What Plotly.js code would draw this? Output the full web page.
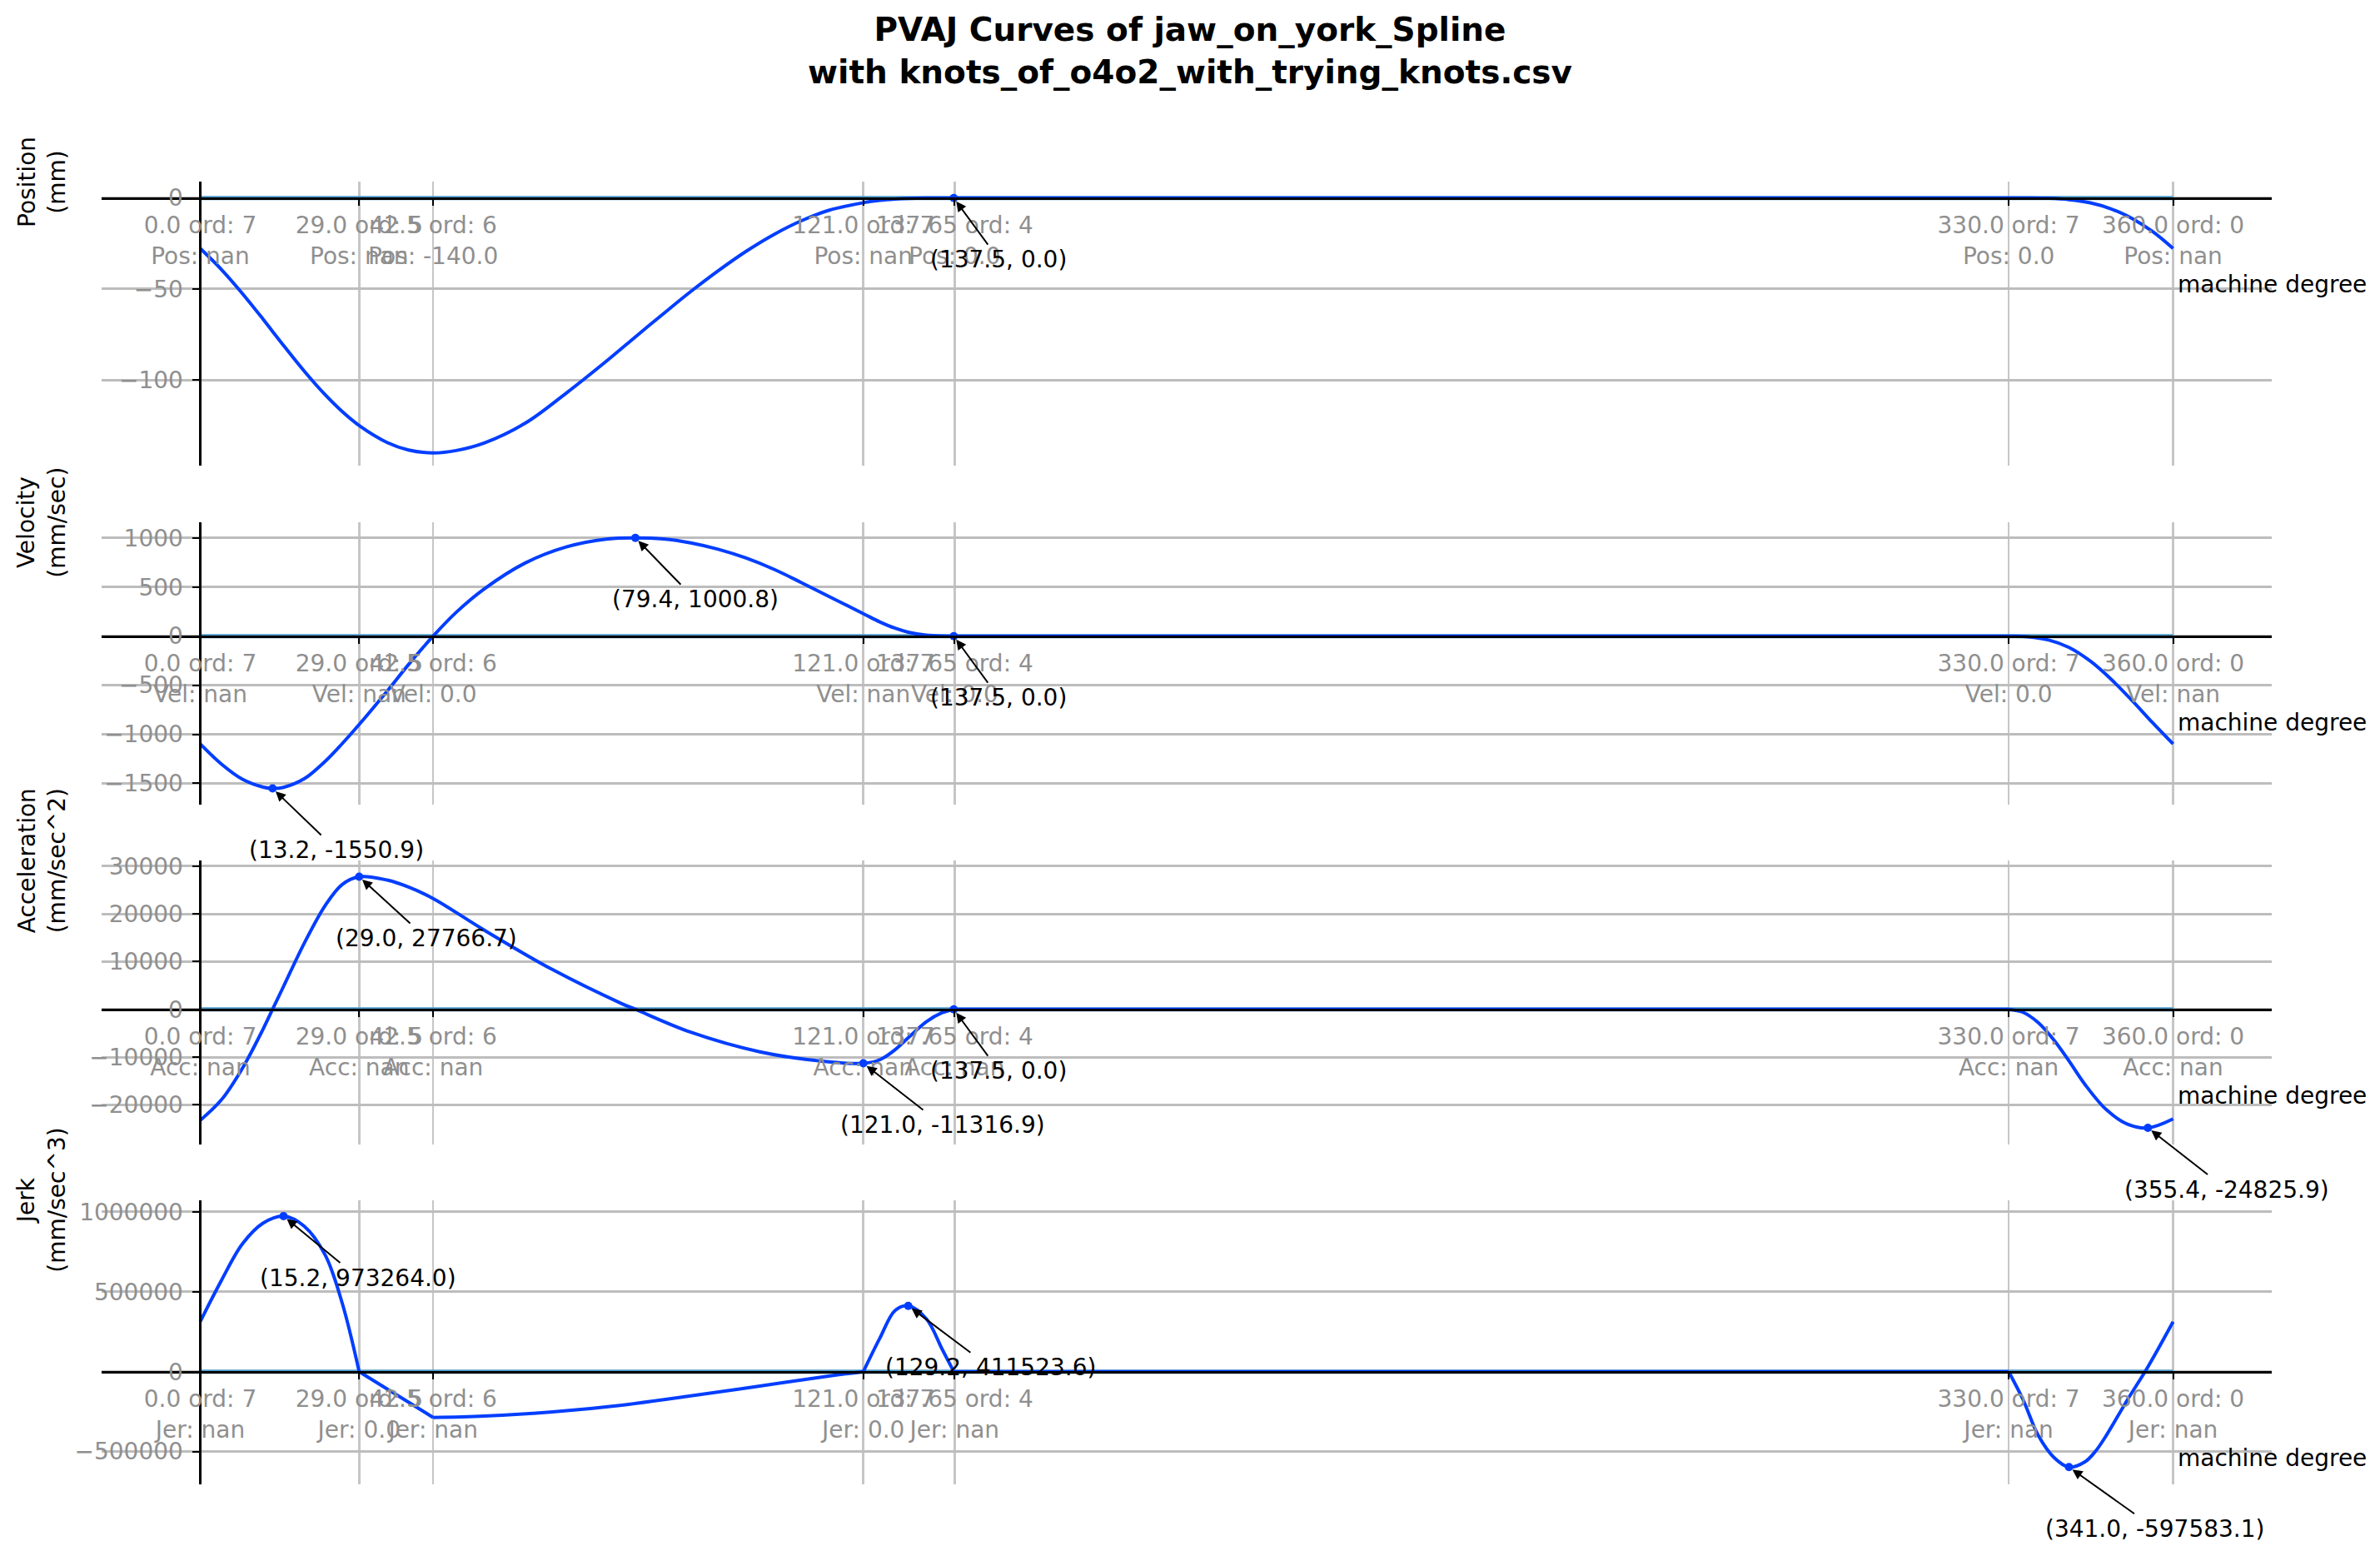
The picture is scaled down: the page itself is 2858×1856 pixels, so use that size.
<!DOCTYPE html>
<html><head><meta charset="utf-8">
<script src="https://cdn.plot.ly/plotly-3.0.1.min.js"></script>
<style>html,body{margin:0;padding:0;background:#fff}#chart{width:2858px;height:1856px}</style>
</head><body><div id="chart"></div>
<script>
// ---------------- data ----------------
const knots      = [0, 29, 42.5, 121, 137.65, 330, 360];
const knotText   = ["0.0", "29.0", "42.5", "121.0", "137.65", "330.0", "360.0"];
const knotOrd    = [7, 5, 6, 7, 4, 7, 0];
const posAtKnot  = ["nan", "nan", "-140.0", "nan", "0.0", "0.0", "nan"];
const velAtKnot  = ["nan", "nan", "0.0", "nan", "0.0", "0.0", "nan"];
const accAtKnot  = ["nan", "nan", "nan", "nan", "nan", "nan", "nan"];
const jerAtKnot  = ["nan", "0.0", "nan", "0.0", "nan", "nan", "nan"];

const posX = [0, 3.9, 7.7, 11.5, 13.2, 15.2, 19, 22.8, 25.9, 29, 34.1, 38, 42.5, 46.7, 51.8, 59.3, 66.9, 74.4, 79.4, 84.5, 89.5, 94.5, 99.6, 104.7, 109.7, 114.7, 121, 124, 126.8, 129.2, 132.5, 137.5, 180, 240, 300, 330, 333.5, 337.3, 341, 344.9, 348.7, 352.5, 356.3, 360];
const posY = [-27.7, -39.4, -52.5, -66.7, -73.3, -81.0, -95.2, -108.1, -117.3, -125.0, -134.3, -138.4, -140, -138.7, -134.6, -123.7, -106.9, -88.9, -76.3, -63.6, -51.4, -40, -29.3, -20.0, -12.5, -6.8, -2.6, -1.3, -0.6, -0.25, -0.05, 0, 0, 0, 0, 0, 0, -0.2, -0.9, -2.7, -6.0, -11.2, -18.5, -27.7];

const velX = [0, 3.9, 7.7, 11.5, 13.2, 15.2, 19, 22.8, 25.9, 29, 34.1, 38, 42.5, 46.7, 51.8, 59.3, 66.9, 74.4, 79.4, 84.5, 89.5, 94.5, 99.6, 104.7, 109.7, 114.7, 121, 124, 126.8, 129.2, 132.5, 135.4, 137.5, 180, 240, 300, 330, 333.5, 337.3, 341, 344.9, 348.7, 352.5, 356.3, 360];
const velY = [-1099, -1305, -1458, -1538, -1550.9, -1540, -1452, -1275, -1095, -900, -560, -290, 0, 242, 480, 745, 910, 990, 1000.8, 990, 950, 885, 795, 680, 545, 405, 229, 145, 80, 40, 10, 1, 0, 0, 0, 0, 0, -7, -40, -115, -255, -440, -655, -885, -1099];

const accX = [0, 3.9, 7.7, 11.5, 13.2, 15.2, 19, 22.8, 25.9, 29, 34.1, 38, 42.5, 51.8, 64.3, 76.9, 79.4, 89.5, 102.1, 114.7, 121, 124, 126.8, 129.2, 132.5, 135.4, 137.5, null, 137.5, 180, 240, 300, 330, null, 330, 332.6, 335.4, 338.3, 341, 343.9, 347.8, 351.6, 355.4, 360];
const accY = [-23250, -18903, -12340, -4072, 0, 4785, 13882, 21734, 26138, 27766.7, 27060, 25600, 23200, 16600, 8300, 1200, 0, -4800, -8900, -11000, -11316.9, -10560, -8450, -5950, -2600, -700, 0, null, 0, 0, 0, 0, 0, null, 0, -620, -2800, -6500, -10800, -15700, -21000, -24000, -24825.9, -22950];

const jerX = [0, 3.9, 7.7, 11.5, 15.2, 19.0, 22.8, 25.9, 29, null, 29, 42.5, null, 42.5, 51.8, 64.3, 76.9, 89.5, 102.1, 114.7, 121, null, 121, 124, 126.8, 129.2, 132.5, 135.4, 137.5, null, 137.5, 180, 240, 300, 330, null, 330, 332.6, 335.4, 338.3, 341, 343.9, 345.8, 347.8, 351.6, 355.4, 360];
const jerY = [312800, 573500, 799800, 930100, 973264, 910000, 730000, 430000, 0, null, 0, -287000, null, -287000, -278000, -252000, -210000, -152000, -90000, -28000, 0, null, 0, 208600, 382700, 411523.6, 330500, 139200, 0, null, 0, 0, 0, 0, 0, null, 0, -173600, -399400, -538600, -597583.1, -565000, -500000, -400000, -180000, 30000, 312800];

const posExtX = [137.5],                     posExtY = [0.0];
const velExtX = [79.4, 13.2, 137.5],         velExtY = [1000.8, -1550.9, 0.0];
const accExtX = [29.0, 121.0, 137.5, 355.4], accExtY = [27766.7, -11316.9, 0.0, -24825.9];
const jerExtX = [15.2, 129.2, 341.0],        jerExtY = [973264.0, 411523.6, -597583.1];

const yTitles  = ["Position<br>(mm)", "Velocity<br>(mm/sec)", "Acceleration<br>(mm/sec^2)", "Jerk<br>(mm/sec^3)"];
const knotPrefix = ["Pos", "Vel", "Acc", "Jer"];
const titleText = "PVAJ Curves of jaw_on_york_Spline<br>with knots_of_o4o2_with_trying_knots.csv";
const xLabel = "machine degree";

// ---------------- layout geometry ----------------
const W = 2858, H = 1856;
const FONT = "DejaVu Sans";
const BLUE = "#023eff";
const GRAY = "#8f8f8f";
const xRange = [-18, 378];
const xd = [122 / W, 2728 / W];
const panels = [
  {top: 218,    bot: 559,    range: [-147.0, 9.0],      dtick: 50,     x: posX, y: posY, ex: posExtX, ey: posExtY, kv: posAtKnot},
  {top: 626.7,  bot: 965.7,  range: [-1714, 1162],      dtick: 500,    x: velX, y: velY, ex: velExtX, ey: velExtY, kv: velAtKnot},
  {top: 1033.3, bot: 1374,   range: [-28310, 31117],    dtick: 10000,  x: accX, y: accY, ex: accExtX, ey: accExtY, kv: accAtKnot},
  {top: 1440.7, bot: 1781.7, range: [-703900, 1074000], dtick: 500000, x: jerX, y: jerY, ex: jerExtX, ey: jerExtY, kv: jerAtKnot}
];

const cvs = document.createElement("canvas").getContext("2d");
cvs.font = '28px "DejaVu Sans"';
function tw(t) { return cvs.measureText(t).width; }

const data = [];
const annotations = [];
const layout = {
  width: W, height: H,
  margin: {l: 0, r: 0, t: 0, b: 0, pad: 0},
  paper_bgcolor: "#fff", plot_bgcolor: "rgba(0,0,0,0)",
  showlegend: false,
  font: {family: FONT, size: 28, color: "#000"},
  title: {
    text: titleText, x: 0.5, xanchor: "center", xref: "paper",
    y: 1 - 49 / H, yanchor: "middle", yref: "container",
    font: {family: FONT, size: 39, color: "#000", weight: "bold"}
  },
  annotations: annotations
};

const yAxisPos = xd[0] + (0 - xRange[0]) / (xRange[1] - xRange[0]) * (xd[1] - xd[0]);

panels.forEach((p, i) => {
  const n = i + 1;
  const xa = "xaxis" + (n === 1 ? "" : n), ya = "yaxis" + (n === 1 ? "" : n);
  const xr = "x" + (n === 1 ? "" : n), yr = "y" + (n === 1 ? "" : n);
  const yd = [1 - p.bot / H, 1 - p.top / H];
  const zeroFrac = yd[0] + (0 - p.range[0]) / (p.range[1] - p.range[0]) * (yd[1] - yd[0]);
  const zeroPx = (1 - zeroFrac) * H;

  layout[xa] = {
    domain: xd, range: xRange, anchor: "free", position: zeroFrac,
    tickmode: "array", tickvals: knots,
    ticktext: knots.map((k, j) => `${knotText[j]} ord: ${knotOrd[j]}<br>${knotPrefix[i]}: ${p.kv[j]}`),
    tickangle: 0,
    tickfont: {family: FONT, size: 28, color: GRAY},
    showgrid: true, gridcolor: "#c6c6c6", gridwidth: 2.5,
    showline: true, linecolor: "#000", linewidth: 3,
    ticks: "outside", ticklen: 7, tickwidth: 2, tickcolor: "#000",
    zeroline: false, automargin: false, fixedrange: true
  };
  layout[ya] = {
    domain: yd, range: p.range, anchor: "free", position: yAxisPos,
    dtick: p.dtick, tick0: 0, tickformat: "d",
    tickfont: {family: FONT, size: 28, color: GRAY},
    showgrid: true, gridcolor: "#bdbdbd", gridwidth: 3,
    showline: true, linecolor: "#000", linewidth: 2.5,
    ticks: "outside", ticklen: 8, tickwidth: 2, tickcolor: "#000",
    ticklabelstandoff: 6,
    zeroline: false, automargin: false, fixedrange: true
  };

  // thin coloured zero line from first to last knot
  data.push({x: [knots[0], knots[knots.length - 1]], y: [0, 0], xaxis: xr, yaxis: yr,
    mode: "lines", line: {color: "#4a98c9", width: 5}, hoverinfo: "skip"});
  // curve
  data.push({x: p.x, y: p.y, xaxis: xr, yaxis: yr, mode: "lines",
    line: {color: BLUE, width: 4, shape: "spline", smoothing: 1}, connectgaps: false});
  // extrema markers
  data.push({x: p.ex, y: p.ey, xaxis: xr, yaxis: yr, mode: "markers",
    marker: {color: BLUE, size: 10}});

  p.ex.forEach((ex, j) => {
    const t = `(${ex.toFixed(1)}, ${p.ey[j].toFixed(1)})`;
    const w = tw(t);
    annotations.push({
      x: ex, y: p.ey[j], xref: xr, yref: yr, text: t,
      showarrow: true, ax: w / 2 - 28, ay: 74, axref: "pixel", ayref: "pixel",
      arrowhead: 2, arrowsize: 1.2, arrowwidth: 2, arrowcolor: "#000", standoff: 5,
      font: {family: FONT, size: 28, color: "#000"}
    });
  });

  // y-axis title (centred on the top of each axes)
  annotations.push({
    xref: "paper", yref: "paper", x: 50 / W, y: 1 - p.top / H,
    text: yTitles[i], textangle: -90, showarrow: false,
    xanchor: "center", yanchor: "middle",
    font: {family: FONT, size: 28, color: "#000"}
  });
  // x-axis label
  annotations.push({
    xref: "paper", yref: "paper", x: 2613 / W, y: 1 - (zeroPx + 104) / H,
    text: xLabel, showarrow: false, xanchor: "left", yanchor: "middle",
    font: {family: FONT, size: 28, color: "#000"}
  });
});

Plotly.newPlot("chart", data, layout, {staticPlot: true, displayModeBar: false});
</script>
</body></html>
